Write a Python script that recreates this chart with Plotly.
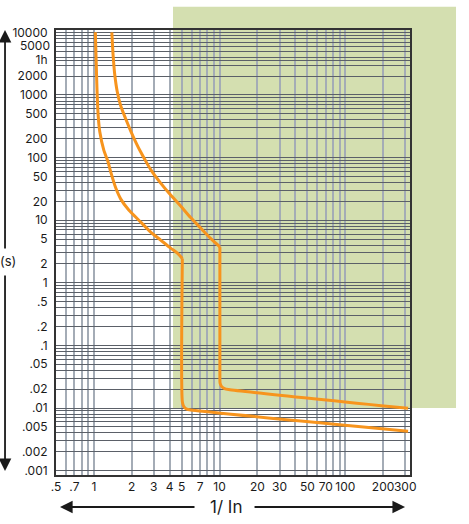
import math
import plotly.graph_objects as go

# ---- data ----
# B curve (left): curved upper branch, then instantaneous branch
b_upper_x = [1.028, 1.043, 1.060, 1.082, 1.116, 1.200, 1.291, 1.364, 1.495, 1.638, 1.896, 2.361, 2.834, 3.402, 4.085, 4.642, 5.058]
b_upper_y = [10000, 3610, 1198, 477, 255, 131.6, 87.9, 58.6, 32.6, 21.7, 14.5, 9.33, 6.46, 4.81, 3.58, 2.95, 2.45]
b_lower_x = [5.058, 5.058, 5.18, 5.47, 6.11, 316]
b_lower_y = [2.45, 0.01265, 0.01072, 0.0096, 0.00925, 0.00428]

# C curve (right)
c_upper_x = [1.390, 1.423, 1.468, 1.537, 1.638, 1.795, 1.966, 2.154, 2.361, 2.586, 2.834, 3.402, 4.085, 4.904, 5.887, 7.067, 8.483, 10.06]
c_upper_y = [10000, 4340, 2079, 1113, 664.6, 412, 265, 176.9, 122.4, 87.9, 64.3, 39.1, 25.2, 16.8, 11.0, 7.48, 5.12, 3.76]
c_lower_x = [10.06, 10.06, 10.1, 10.4, 10.96, 11.8, 316]
c_lower_y = [3.76, 0.0297, 0.025, 0.022, 0.0205, 0.0198, 0.0099]

x_tick_vals = [0.5, 0.7, 1, 2, 3, 4, 5, 7, 10, 20, 30, 50, 70, 100, 200, 300]
x_tick_text = [".5", ".7", "1", "2", "3", "4", "5", "7", "10", "20", "30", "50", "70", "100", "200", "300"]

y_tick_vals = [10000, 5000, 3600, 2000, 1000, 500, 200, 100, 50, 20, 10, 5, 2, 1,
               0.5, 0.2, 0.1, 0.05, 0.02, 0.01, 0.005, 0.002, 0.001]
y_tick_text = ["10000", "5000", "1h", "2000", "1000", "500", "200", "100", "50", "20", "10", "5", "2", "1",
               ".5", ".2", ".1", ".05", ".02", ".01", ".005", ".002", ".001"]
# labels the designer nudged upward to avoid crowding (value -> pixel shift)
y_label_nudge = {5000: 6}

x_decades = [0.1, 1, 10, 100]
y_decades = [0.001, 0.01, 0.1, 1, 10, 100, 1000]
x_max = 325
y_max = 10000

# ---- gridline positions (1..9 per decade) ----
def grid_values(decades, lo, hi):
    vals = []
    for d in decades:
        for m in range(1, 10):
            v = round(d * m, 6)
            if lo - 1e-9 <= v <= hi + 1e-9:
                vals.append(v)
    vals.append(hi)
    return vals

def merged(grid, labvals, labtext, skip=()):
    lab = {round(v, 6): t for v, t in zip(labvals, labtext) if v not in skip}
    allv = sorted(set([round(v, 6) for v in grid] + [round(v, 6) for v in labvals]))
    return allv, [lab.get(v, "") for v in allv]

xv, xt = merged(grid_values(x_decades, 0.5, 300), x_tick_vals, x_tick_text)
yv, yt = merged(grid_values(y_decades, 0.001, y_max), y_tick_vals, y_tick_text, skip=tuple(y_label_nudge))

orange = "#F7941D"
ink = "#1a1a1a"
font_family = "Inter, Lato, DejaVu Sans, sans-serif"

fig = go.Figure()
for xs, ys in [(b_upper_x, b_upper_y), (b_lower_x, b_lower_y), (c_upper_x, c_upper_y), (c_lower_x, c_lower_y)]:
    fig.add_trace(go.Scatter(x=xs, y=ys, mode="lines",
                             line=dict(color=orange, width=3, shape="spline", smoothing=0.7),
                             hoverinfo="skip", showlegend=False))

# green zone behind the grid (extends past the plot frame)
fig.add_shape(type="rect", xref="paper", yref="paper", x0=0.3305, x1=1.13, y0=0.1506, y1=1.052,
              fillcolor="#D4DFB0", line=dict(width=0), layer="below")

# nudged tick labels
for v, dy in y_label_nudge.items():
    lbl = y_tick_text[y_tick_vals.index(v)]
    fig.add_annotation(x=0, xref="paper", y=math.log10(v), yref="y", text=lbl, showarrow=False,
                       xanchor="right", yanchor="middle", xshift=-4, yshift=dy,
                       font=dict(size=12, color=ink, family=font_family))

# axis arrows
arrow = dict(showarrow=True, arrowhead=2, arrowsize=1.4, arrowwidth=1.8, arrowcolor=ink,
             text="", xref="paper", yref="paper", axref="pixel", ayref="pixel")
fig.add_annotation(x=-0.144, y=1.0, ax=0, ay=220, **arrow)
fig.add_annotation(x=-0.144, y=0.009, ax=0, ay=-197, **arrow)
fig.add_annotation(x=0.0113, y=-0.0719, ax=136, ay=0, **arrow)
fig.add_annotation(x=0.986, y=-0.0719, ax=-152, ay=0, **arrow)

fig.add_annotation(x=-0.135, y=0.481, xref="paper", yref="paper", text="(s)", showarrow=False,
                   xanchor="center", yanchor="middle",
                   font=dict(size=13, color=ink, family=font_family))
fig.add_annotation(x=0.48, y=-0.0719, xref="paper", yref="paper", text="1/ In", showarrow=False,
                   xanchor="center", yanchor="middle",
                   font=dict(size=17, color=ink, family=font_family))

fig.update_xaxes(type="log", range=[-0.301, 2.515], tickmode="array", tickvals=xv, ticktext=xt,
                 tickangle=0,
                 showgrid=True, gridcolor="#A4ACB6", gridwidth=1.5, ticks="", ticklen=0,
                 showline=True, mirror=True, linecolor="#333333", linewidth=2,
                 tickfont=dict(size=12, color=ink, family=font_family), fixedrange=True)
fig.update_yaxes(type="log", range=[-3.069, 4.037], tickmode="array", tickvals=yv, ticktext=yt,
                 showgrid=True, gridcolor="#5B6068", gridwidth=1.2, ticks="", ticklen=0,
                 ticklabelstandoff=4,
                 showline=True, mirror=True, linecolor="#333333", linewidth=2,
                 tickfont=dict(size=12, color=ink, family=font_family), fixedrange=True)

fig.update_layout(width=469, height=524, margin=dict(l=56, r=59, t=30, b=49),
                  paper_bgcolor="white", plot_bgcolor="rgba(0,0,0,0)", showlegend=False)

fig.write_html("out.html", config={"displayModeBar": False},
               post_script="document.body.style.margin='0px';")
